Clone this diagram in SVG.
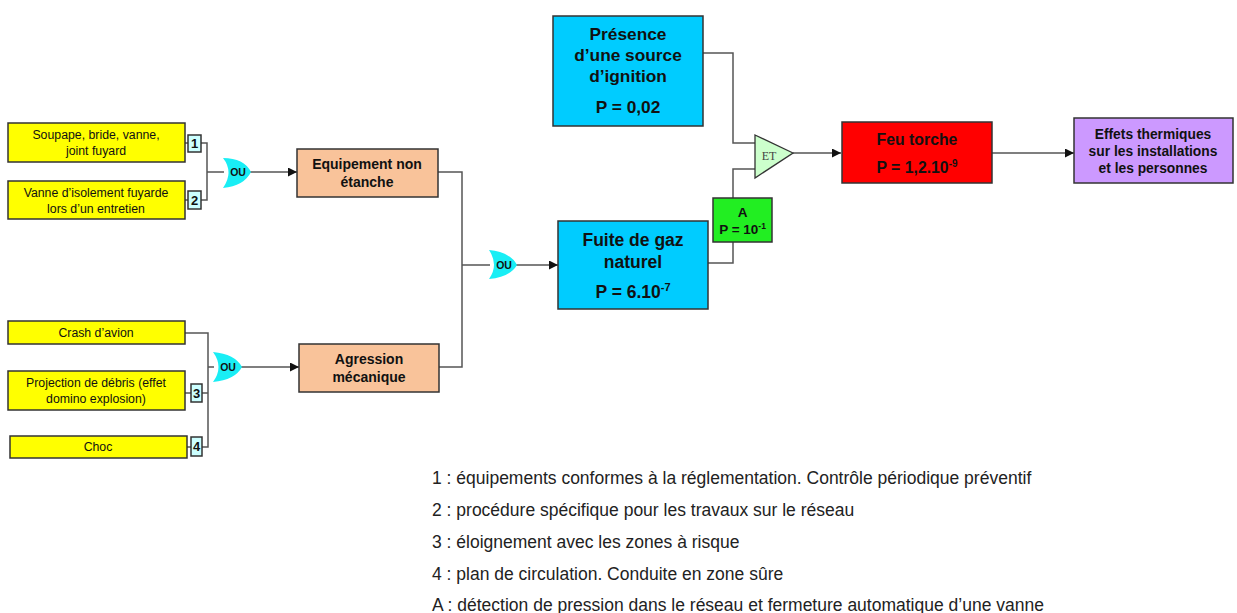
<svg xmlns="http://www.w3.org/2000/svg" width="1237" height="613" viewBox="0 0 1237 613">
<defs>
<style>
.y{fill:#ffff00;stroke:#333;stroke-width:1.5}
.n{fill:#ccffff;stroke:#333;stroke-width:1.5}
.o{fill:#f9c39a;stroke:#333;stroke-width:1.5}
.b{fill:#00ccff;stroke:#333;stroke-width:1.5}
.w{stroke:#555;stroke-width:1.5;fill:none}
.g{fill:#19eef5;stroke:none}
.t{font-family:"Liberation Sans",Arial,sans-serif;fill:#111;text-anchor:middle}
.s{font-size:12.3px}
.bd{font-weight:bold}
.lg{font-family:"Liberation Sans",Arial,sans-serif;font-size:17.5px;fill:#222}
</style>
<marker id="ar" viewBox="0 0 10 10" refX="10" refY="5" markerWidth="9" markerHeight="9" markerUnits="userSpaceOnUse" orient="auto"><path d="M0,0L10,5L0,10z" fill="#111"/></marker>
</defs>
<g id="connectors">
<path class="w" d="M185,143H188M201,143H207V200H201M185,200H188M207,172H224"/>
<path class="w" d="M250,172H297" marker-end="url(#ar)"/>
<path class="w" d="M185,333H208V447H202M187,447H191M185,393H191M202,393H208M208,367H214"/>
<path class="w" d="M241,367H299" marker-end="url(#ar)"/>
<path class="w" d="M438,172H462V367H439M462,265H490"/>
<path class="w" d="M516,265H558" marker-end="url(#ar)"/>
<path class="w" d="M708,263H733V242M733,198V169H756M703,53H733V143H756"/>
<path class="w" d="M793,153H841" marker-end="url(#ar)"/>
<path class="w" d="M992,153H1074" marker-end="url(#ar)"/>
</g>
<g id="n-soupape"><rect class="y" x="8" y="123" width="177" height="39"/><text class="t s" x="96" y="139">Soupape, bride, vanne,</text><text class="t s" x="96" y="155">joint fuyard</text></g>
<g id="n-vanne"><rect class="y" x="8" y="181" width="177" height="38"/><text class="t s" x="96" y="197">Vanne d’isolement fuyarde</text><text class="t s" x="96" y="213">lors d’un entretien</text></g>
<g id="n-crash"><rect class="y" x="8" y="321" width="177" height="23"/><text class="t s" x="96" y="337">Crash d’avion</text></g>
<g id="n-projection"><rect class="y" x="8" y="371" width="177" height="39"/><text class="t s" x="96" y="387">Projection de débris (effet</text><text class="t s" x="96" y="403">domino explosion)</text></g>
<g id="n-choc"><rect class="y" x="10" y="436" width="177" height="22"/><text class="t s" x="98" y="451">Choc</text></g>
<g id="b1"><rect class="n" x="188" y="135" width="13" height="17"/><text class="t bd" font-size="13" x="194.5" y="148">1</text></g>
<g id="b2"><rect class="n" x="188" y="191" width="13" height="18"/><text class="t bd" font-size="13" x="194.5" y="205">2</text></g>
<g id="b3"><rect class="n" x="191" y="384" width="11" height="18"/><text class="t bd" font-size="13" x="196.5" y="398">3</text></g>
<g id="b4"><rect class="n" x="191" y="437" width="11" height="19"/><text class="t bd" font-size="13" x="196.5" y="451">4</text></g>
<g id="ou1"><path class="g" d="M223,158Q234,172 223,188Q244,186 251,172Q244,158 223,158Z"/><text class="t bd" font-size="10.5" x="238" y="176">OU</text></g>
<g id="ou2"><path class="g" d="M213,352Q224,367 213,382Q235,380 242,367Q235,354 213,352Z"/><text class="t bd" font-size="10.5" x="228" y="371">OU</text></g>
<g id="ou3"><path class="g" d="M489,250Q499,265 489,279Q510,277 517,265Q510,252 489,250Z"/><text class="t bd" font-size="10.5" x="504" y="269">OU</text></g>
<g id="n-equipement"><rect class="o" x="297" y="149" width="141" height="48"/><text class="t bd" font-size="14" x="367" y="169">Equipement non</text><text class="t bd" font-size="14" x="367" y="187">étanche</text></g>
<g id="n-agression"><rect class="o" x="299" y="344" width="140" height="48"/><text class="t bd" font-size="14" x="369" y="364">Agression</text><text class="t bd" font-size="14" x="369" y="382">mécanique</text></g>
<g id="n-fuite"><rect class="b" x="558" y="221" width="150" height="88"/><text class="t bd" font-size="17.5" x="633" y="246">Fuite de gaz</text><text class="t bd" font-size="17.5" x="633" y="268">naturel</text><text class="t bd" font-size="17.5" x="633" y="298">P = 6.10<tspan font-size="11" dy="-7">-7</tspan></text></g>
<g id="n-presence"><rect class="b" x="553" y="16" width="150" height="110"/><text class="t bd" font-size="17.3" x="628" y="40">Présence</text><text class="t bd" font-size="17.3" x="628" y="61">d’une source</text><text class="t bd" font-size="17.3" x="628" y="82">d’ignition</text><text class="t bd" font-size="17.3" x="628" y="113">P = 0,02</text></g>
<g id="n-a"><rect x="713" y="198" width="59" height="44" fill="#22ee22" stroke="#333" stroke-width="1.5"/><text class="t bd" font-size="13.5" x="742.5" y="217">A</text><text class="t bd" font-size="13.5" x="742.5" y="234">P = 10<tspan font-size="8.5" dy="-5">-1</tspan></text></g>
<g id="et"><path d="M755,135L793,153L755,178Z" fill="#ccffcc" stroke="#333" stroke-width="1.3"/><text x="769" y="160" font-family="Liberation Serif,serif" font-size="12" fill="#444" text-anchor="middle">ET</text></g>
<g id="n-feu"><rect x="842" y="122" width="150" height="61" fill="#ff0000" stroke="#333" stroke-width="1.5"/><text class="t bd" font-size="15.8" x="917" y="145">Feu torche</text><text class="t bd" font-size="15.8" x="917" y="173">P = 1,2.10<tspan font-size="10" dy="-6">-9</tspan></text></g>
<g id="n-effets"><rect x="1074" y="118" width="159" height="65" fill="#cc99ff" stroke="#333" stroke-width="1.5"/><text class="t bd" font-size="13.8" x="1153" y="139">Effets thermiques</text><text class="t bd" font-size="13.8" x="1153" y="156">sur les installations</text><text class="t bd" font-size="13.8" x="1153" y="173">et les personnes</text></g>
<g id="legend">
<text class="lg" x="432" y="484">1 : équipements conformes à la réglementation. Contrôle périodique préventif</text>
<text class="lg" x="432" y="516">2 : procédure spécifique pour les travaux sur le réseau</text>
<text class="lg" x="432" y="548">3 : éloignement avec les zones à risque</text>
<text class="lg" x="432" y="580">4 : plan de circulation. Conduite en zone sûre</text>
<text class="lg" x="432" y="611">A : détection de pression dans le réseau et fermeture automatique d’une vanne</text>
</g>
</svg>
